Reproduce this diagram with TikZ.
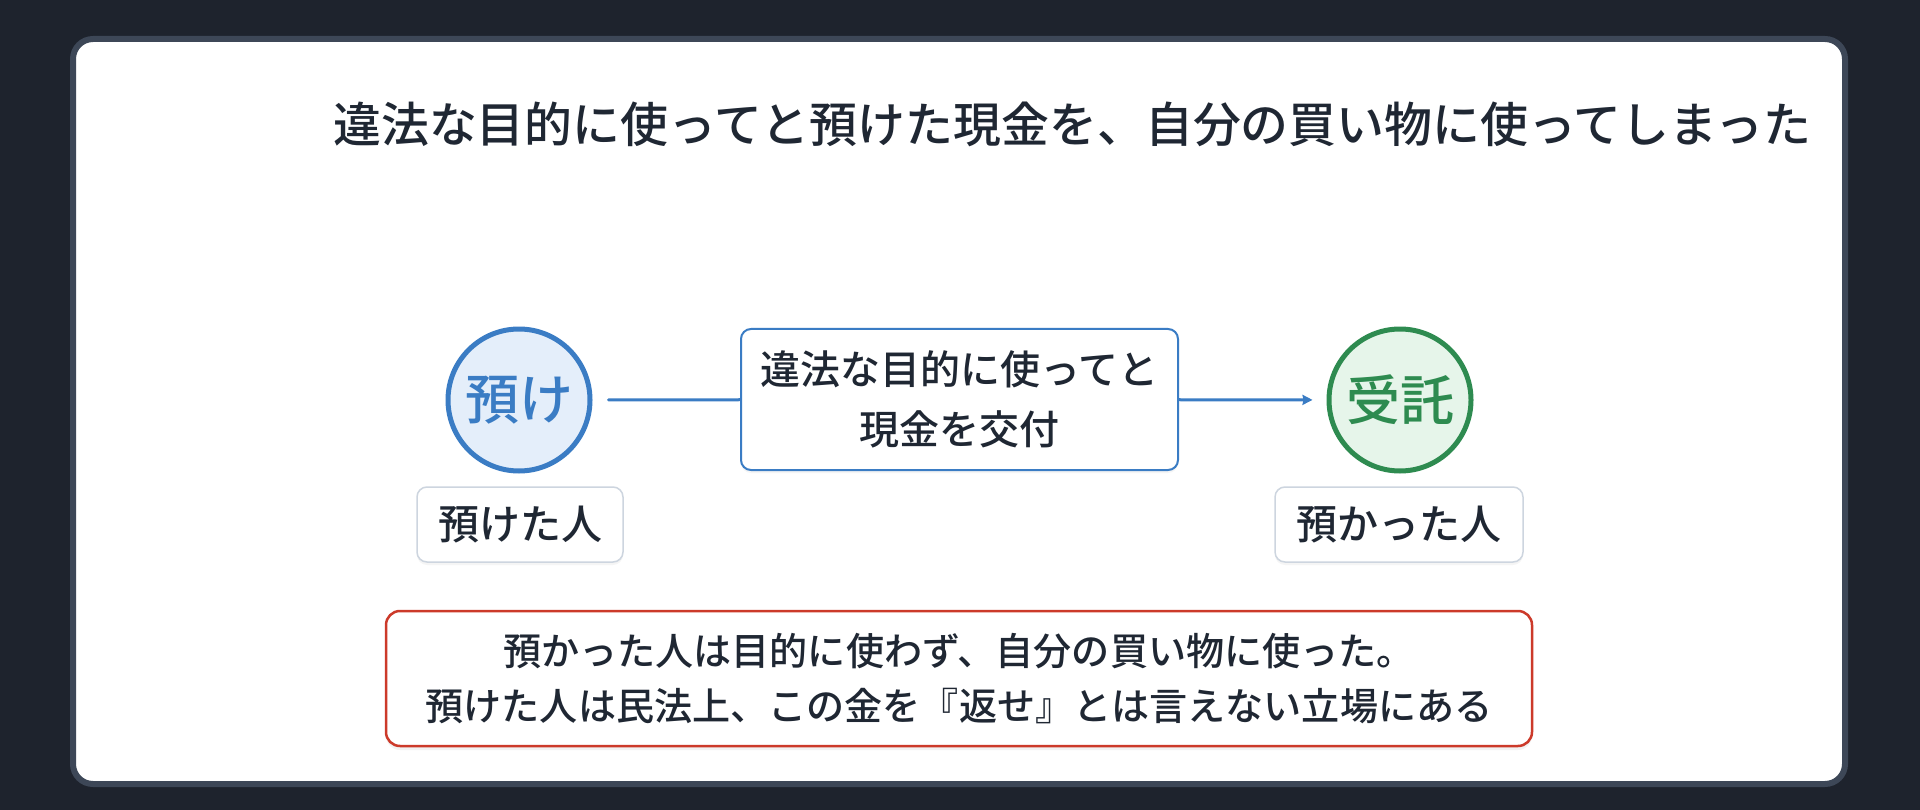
\documentclass[tikz,border=0pt]{standalone}
\usepackage{fontspec}
\setmainfont{Noto Sans CJK JP}
\newfontfamily\jpmed{Noto Sans CJK JP Medium}
\usetikzlibrary{arrows.meta,shadows}
\definecolor{bgdark}{HTML}{1E232D}
\definecolor{cardedge}{HTML}{3D4757}
\definecolor{ink}{HTML}{1F2733}
\definecolor{azu}{HTML}{3A7CC4}
\definecolor{azufill}{HTML}{E4EEFA}
\definecolor{jutaku}{HTML}{2E8B50}
\definecolor{jutakufill}{HTML}{E6F5EA}
\definecolor{chui}{HTML}{CC3A2A}
\definecolor{labeledge}{HTML}{CDD5DF}
\begin{document}
\begin{tikzpicture}[x=1pt,y=-1pt, line join=round, line cap=round, >={Stealth[length=10pt,width=10pt,inset=1pt]},
  party/.style={circle, minimum size=142pt, inner sep=0pt, line width=5pt, font=\jpmed\fontsize{54}{60}\selectfont},
  role/.style={draw=labeledge, line width=1.5pt, fill=white, rounded corners=10pt, minimum height=75pt, inner sep=0pt, text=ink, font=\jpmed\fontsize{41}{48}\selectfont, drop shadow={shadow xshift=0pt, shadow yshift=-3pt, opacity=0.08}},
  flow/.style={draw=azu, line width=3pt}]
\useasboundingbox (0,0) rectangle (1920,810);
\fill[bgdark] (0,0) rectangle (1920,810);
\draw[cardedge, line width=6pt, fill=white, rounded corners=20pt] (73,39) rectangle (1845,784);
\node (title) [anchor=west, text=ink, inner sep=0pt, font=\jpmed\fontsize{47.9}{54}\selectfont] at (333,124) {違法な目的に使ってと預けた現金を、自分の買い物に使ってしまった};
\node (azuke) [party, draw=azu, fill=azufill, text=azu] at (519,400) {預け};
\node (jutaku) [party, draw=jutaku, fill=jutakufill, text=jutaku] at (1400,400) {受託};
\node (kofu) [draw=azu, line width=2pt, fill=white, rounded corners=10pt, minimum width=437pt, minimum height=141pt, inner sep=0pt, align=center, text=ink,
  font=\jpmed\fontsize{40}{60}\selectfont, drop shadow={shadow xshift=0pt, shadow yshift=-3pt, opacity=0.08}] at (959.5,399.5) {違法な目的に使ってと\\現金を交付};
\draw[flow, shorten <=16pt] (azuke) -- (kofu);
\draw[flow, ->, shorten >=14pt] (kofu) -- (jutaku);
\node (azukete) [role, minimum width=206pt] at (520,524.5) {預けた人};
\node (azukatta) [role, minimum width=248pt] at (1399,524.5) {預かった人};
\node (chuui) [draw=chui, line width=2.5pt, fill=white, rounded corners=14pt, minimum width=1146pt, minimum height=135pt, inner sep=0pt, align=center, text=ink,
  font=\jpmed\fontsize{38.1}{55}\selectfont, drop shadow={shadow xshift=0pt, shadow yshift=-4pt, opacity=0.1}] at (959,678.5)
  {預かった人は目的に使わず、自分の買い物に使った。\\預けた人は民法上、この金を『返せ』とは言えない立場にある};
\end{tikzpicture}
\end{document}
